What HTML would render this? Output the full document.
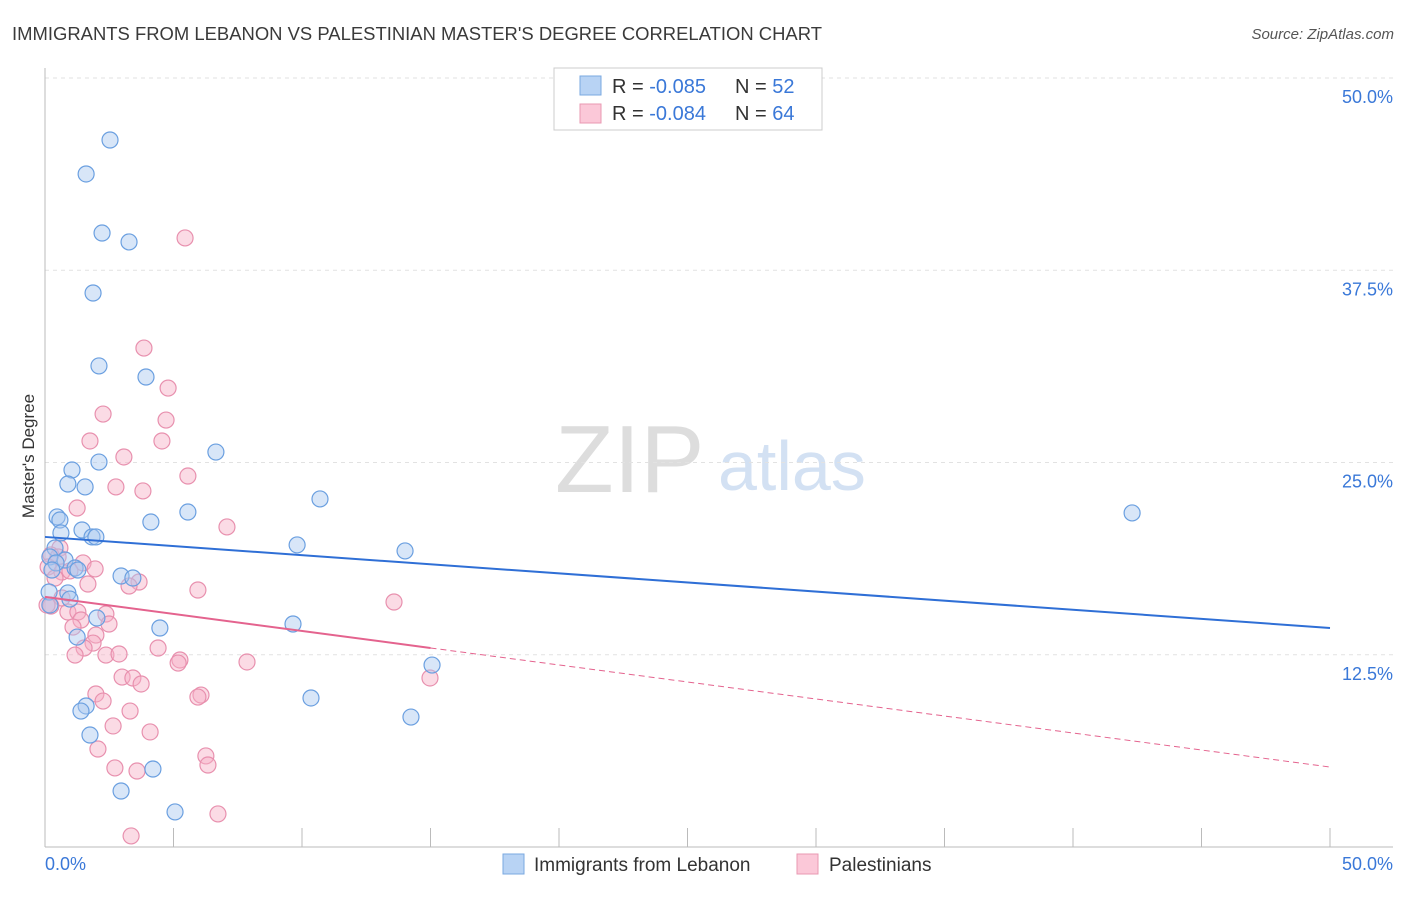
<!DOCTYPE html>
<html><head><meta charset="utf-8"><style>
body{margin:0;background:#fff;font-family:"Liberation Sans",sans-serif;}
svg text{font-family:"Liberation Sans",sans-serif;}
</style></head><body>
<svg id="chart" width="1406" height="892">
<text x="12" y="40" font-size="18" fill="#3a3a3a" textLength="810" lengthAdjust="spacingAndGlyphs">IMMIGRANTS FROM LEBANON VS PALESTINIAN MASTER'S DEGREE CORRELATION CHART</text>
<text x="1394" y="39" font-size="15" fill="#555" font-style="italic" text-anchor="end">Source: ZipAtlas.com</text>
<text x="555" y="492" font-size="96" fill="#ddd" font-family="Liberation Serif">ZIP</text>
<text x="718" y="490" font-size="70" fill="#d3e1f3">atlas</text>
<text transform="translate(34,456) rotate(-90)" font-size="17" fill="#333" text-anchor="middle">Master's Degree</text>
<g id="grid"></g><g id="marks"></g>
<g>
<rect x="554" y="68" width="268" height="62" fill="#fff" stroke="#ccc"/>
<rect x="580" y="76" width="21" height="19" fill="#b8d3f4" stroke="#7aa8e0"/>
<text x="612" y="93" font-size="20" fill="#333">R = <tspan fill="#3a78d8">-0.085</tspan></text>
<text x="735" y="93" font-size="20" fill="#333">N = <tspan fill="#3a78d8">52</tspan></text>
<rect x="580" y="104" width="21" height="19" fill="#fbc8d8" stroke="#e898b2"/>
<text x="612" y="120" font-size="20" fill="#333">R = <tspan fill="#3a78d8">-0.084</tspan></text>
<text x="735" y="120" font-size="20" fill="#333">N = <tspan fill="#3a78d8">64</tspan></text>
</g>
<g>
<rect x="503" y="854" width="21" height="20" fill="#b8d3f4" stroke="#7aa8e0"/>
<text x="534" y="871" font-size="19" fill="#333">Immigrants from Lebanon</text>
<rect x="797" y="854" width="21" height="20" fill="#fbc8d8" stroke="#e898b2"/>
<text x="829" y="871" font-size="19" fill="#333">Palestinians</text>
</g>
</svg>
<script>
const yTicks=[12.5,25,37.5,50];
const yTickLabels=["12.5%","25.0%","37.5%","50.0%"];
const xTickLabels=["0.0%","50.0%"];
const blueX=[2.53,1.60,2.22,3.27,1.87,2.10,3.93,1.05,2.10,0.89,1.56,6.65,0.47,0.58,4.12,5.56,10.70,1.44,0.62,1.83,1.98,9.81,14.01,42.30,0.39,0.19,0.78,0.43,1.17,1.28,2.96,3.42,0.16,0.89,0.97,2.02,4.47,9.65,1.25,15.06,10.35,1.60,1.40,14.24,1.75,4.20,2.96,5.06,0.19,0.27];
const blueY=[45.97,43.76,39.92,39.34,36.02,31.28,30.56,24.51,25.03,23.60,23.41,25.68,21.46,21.26,21.13,21.78,22.63,20.61,20.42,20.16,20.16,19.64,19.25,21.72,19.44,18.86,18.66,18.47,18.14,18.01,17.62,17.49,16.58,16.52,16.12,14.89,14.24,14.50,13.65,11.83,9.69,9.17,8.84,8.45,7.28,5.07,3.64,2.28,15.73,18.01];
const pinkX=[5.45,3.85,4.79,2.26,4.71,1.75,4.55,3.07,5.56,2.76,3.81,1.25,7.08,0.58,0.23,0.51,1.48,0.12,0.66,0.97,1.95,3.66,3.27,1.67,5.95,13.58,0.66,0.23,0.89,1.28,2.37,1.40,2.49,1.09,1.98,1.87,1.52,4.40,1.17,2.37,2.88,5.25,5.18,7.86,3.00,3.42,3.74,14.98,1.98,6.07,5.95,2.26,3.31,2.65,4.09,2.06,6.26,6.34,2.72,3.58,6.73,3.35,0.08,0.39];
const pinkY=[39.60,32.44,29.84,28.15,27.76,26.40,26.40,25.36,24.12,23.41,23.15,22.04,20.81,19.44,18.99,18.86,18.47,18.21,17.88,17.95,18.08,17.23,16.97,17.10,16.71,15.93,16.19,15.67,15.28,15.28,15.15,14.76,14.50,14.30,13.78,13.26,12.94,12.94,12.48,12.48,12.55,12.16,11.96,12.03,11.05,10.99,10.60,10.99,9.95,9.88,9.75,9.49,8.84,7.87,7.48,6.37,5.92,5.33,5.14,4.94,2.15,0.72,15.73,17.49];
const blueTrend=[20.16,14.24];
const pinkTrend=[16.26,5.2];
const pinkSolidEnd=15;
const X=v=>45+v/50*1285, Y=v=>847-v/50*769;
const NS="http://www.w3.org/2000/svg";
function mk(tag,attrs,parent){const e=document.createElementNS(NS,tag);for(const k in attrs)e.setAttribute(k,attrs[k]);parent.appendChild(e);return e;}
const grid=document.getElementById('grid'),marks=document.getElementById('marks');
yTicks.forEach((t,i)=>{
 const l=mk('line',{x1:45,x2:1393,y1:Y(t),y2:Y(t),stroke:'#e2e2e2','stroke-dasharray':'4,4'},grid);
 
 
 const tx=mk('text',{x:1393,y:Y(t)+25,'font-size':18,fill:'#3a78d8','text-anchor':'end'},grid);
 tx.textContent=yTickLabels[i];
 
 
});
const ax=mk('line',{x1:45,x2:1393,y1:847,y2:847,stroke:'#bbb'},grid);


const ay=mk('line',{x1:45,x2:45,y1:68,y2:847,stroke:'#bbb'},grid);


for(let i=0;i<=10;i++){const tk=mk('line',{x1:X(i*5),x2:X(i*5),y1:828,y2:847,stroke:'#bbb'},grid);
 
 }
[[0,'start',45],[50,'end',1393]].forEach((d,i)=>{const t=mk('text',{x:d[2],y:870,'font-size':18,fill:'#3a78d8','text-anchor':d[1]},grid);t.textContent=xTickLabels[i];
 
 });
function pts(xs,ys,fill,stroke,name){xs.forEach((x,i)=>{const c=mk('circle',{cx:X(x),cy:Y(ys[i]),r:8,fill:fill,'fill-opacity':0.45,stroke:stroke,'stroke-width':1.2},marks);
 
 });}
pts(pinkX,pinkY,'#f7b0c6','#e890ae','palestinian-point');
pts(blueX,blueY,'#a8c8f0','#6a9fe0','lebanon-point');
const bl=mk('line',{x1:X(0),y1:Y(blueTrend[0]),x2:X(50),y2:Y(blueTrend[1]),stroke:'#2f6fd6','stroke-width':2},marks);


const ps=pinkTrend[0]+(pinkTrend[1]-pinkTrend[0])*pinkSolidEnd/50;
const pl=mk('line',{x1:X(0),y1:Y(pinkTrend[0]),x2:X(pinkSolidEnd),y2:Y(ps),stroke:'#e4638e','stroke-width':2},marks);


const pd=mk('line',{x1:X(pinkSolidEnd),y1:Y(ps),x2:X(50),y2:Y(pinkTrend[1]),stroke:'#e4638e','stroke-width':1,'stroke-dasharray':'6,4'},marks);


</script>
</body></html>
